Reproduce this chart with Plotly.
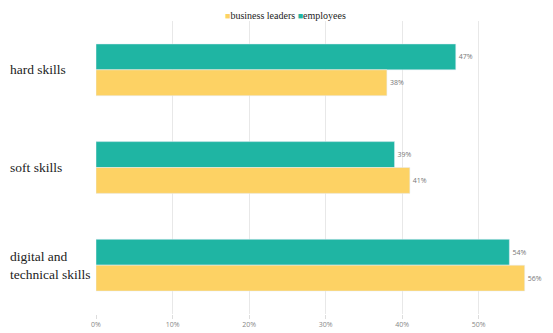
import plotly.graph_objects as go

categories = ["hard skills", "soft skills", "digital and technical skills"]
cat_labels = ["hard skills", "soft skills", "digital and<br>technical skills"]
employees = [47, 39, 54]
leaders = [38, 41, 56]
emp_text = ["47%", "39%", "54%"]
lead_text = ["38%", "41%", "56%"]
x_ticks = [0, 10, 20, 30, 40, 50, 60]
x_tick_labels = ["0%", "10%", "20%", "30%", "40%", "50%", "60%"]

TEAL = "#1fb5a3"
YELLOW = "#fdd264"

fig = go.Figure()
fig.add_trace(go.Bar(
    y=categories, x=employees, orientation="h", name="employees",
    marker=dict(color=TEAL), text=emp_text, textposition="outside",
    textfont=dict(size=7, color="#777777", family="Open Sans"), cliponaxis=False,
    showlegend=False,
))
fig.add_trace(go.Bar(
    y=categories, x=leaders, orientation="h", name="business leaders",
    marker=dict(color=YELLOW), text=lead_text, textposition="outside",
    textfont=dict(size=7, color="#777777", family="Open Sans"), cliponaxis=False,
    showlegend=False,
))

W, H = 553, 333
plot_left, top, bottom = 96, 21, 19
plot_w = W - plot_left
plot_h = H - top - bottom
for cat, lab in zip(categories, cat_labels):
    fig.add_annotation(
        x=-(plot_left - 8) / plot_w, xref="paper", y=cat, yref="y",
        text=lab, showarrow=False, xanchor="left", align="left",
        font=dict(family="Liberation Serif", size=13.5, color="#222222"),
    )

# compact legend as text
fig.add_annotation(
    x=(285 - plot_left) / plot_w, xref="paper",
    y=(H - 16 - bottom) / plot_h, yref="paper",
    text=(f"<span style='color:{YELLOW};font-size:9px'>■</span>business leaders "
          f"<span style='color:{TEAL};font-size:9px'>■</span>employees"),
    showarrow=False, xanchor="center", yanchor="middle",
    font=dict(family="Liberation Serif", size=10, color="#222222"),
)

fig.update_layout(
    width=W, height=H,
    margin=dict(l=plot_left, r=0, t=top, b=bottom, autoexpand=False),
    paper_bgcolor="white", plot_bgcolor="white",
    barmode="group", bargap=0.47, bargroupgap=0,
    showlegend=False,
    xaxis=dict(
        range=[0, 59.7], tickvals=x_ticks, ticktext=x_tick_labels,
        showgrid=True, gridcolor="#e8e8e8", gridwidth=1, zeroline=False,
        ticks="outside", ticklen=4, tickcolor="#dddddd",
        tickfont=dict(size=7, color="#888888", family="Open Sans"),
        showline=False,
    ),
    yaxis=dict(
        autorange="reversed", showticklabels=False, showgrid=False,
        zeroline=False, showline=False,
    ),
)

fig.write_html("out.html")
